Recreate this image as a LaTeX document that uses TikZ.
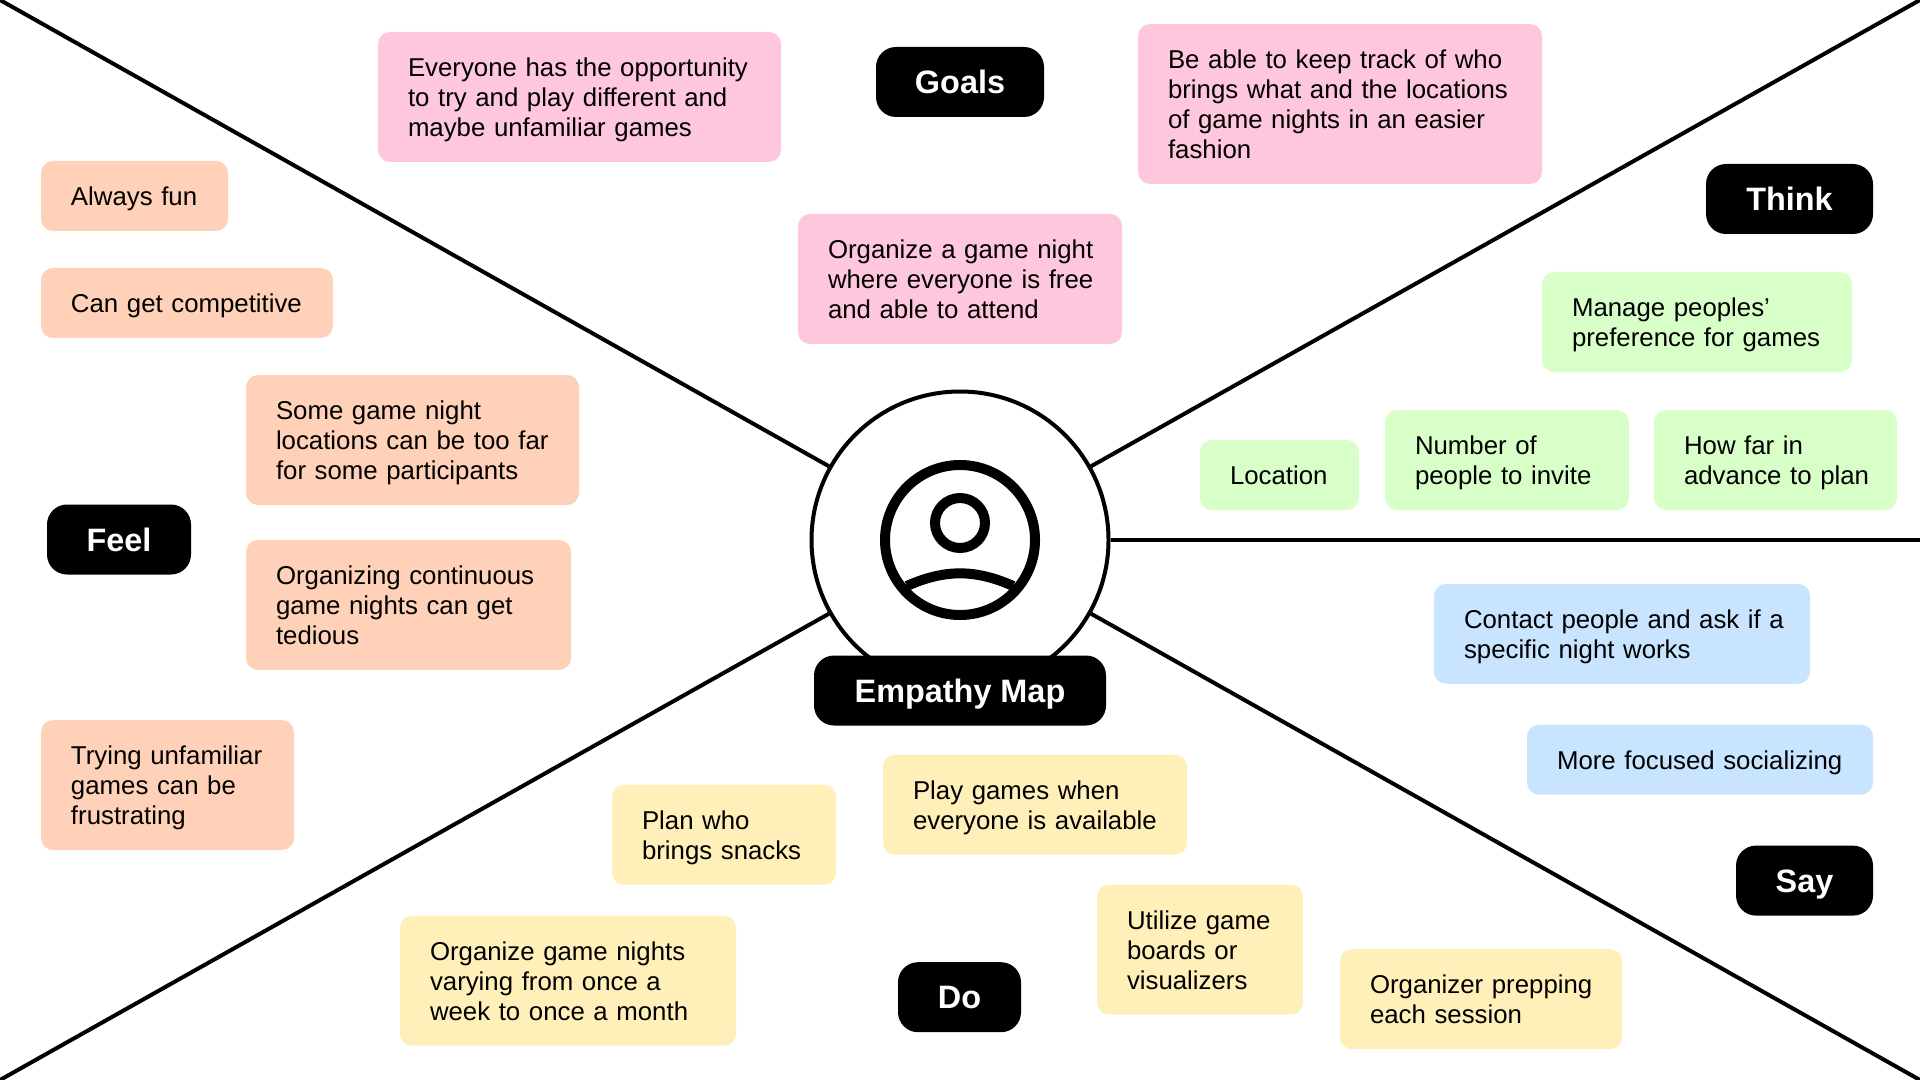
\documentclass[tikz,border=0pt]{standalone}
\usepackage{fontspec}
\setmainfont{Liberation Sans}
\usetikzlibrary{positioning}
\definecolor{pinkbox}{HTML}{FFC7DD}
\definecolor{peachbox}{HTML}{FFD1B8}
\definecolor{greenbox}{HTML}{D9FFC9}
\definecolor{bluebox}{HTML}{C9E4FF}
\definecolor{yellowbox}{HTML}{FFF0BA}
\tikzset{
note/.style={rectangle, rounded corners=6pt, outer sep=0pt, inner xsep=10pt, inner ysep=10pt, align=left, text width=#1, font=\fontsize{12.9}{15}\selectfont, execute at begin node={\leftskip=5pt\rule{0pt}{12.3pt}}, execute at end node=\rule[-2.7pt]{0pt}{2.7pt}},
goalnote/.style={note=#1, fill=pinkbox},
feelnote/.style={note=#1, fill=peachbox},
thinknote/.style={note=#1, fill=greenbox},
saynote/.style={note=#1, fill=bluebox},
donote/.style={note=#1, fill=yellowbox},
pill/.style={rectangle, rounded corners=10pt, outer sep=0pt, inner sep=0pt, fill=black, text=white, minimum height=35pt, minimum width=#1, text height=11.6pt, text depth=0pt, font=\bfseries\fontsize{16.2}{18}\selectfont},
ring/.style={circle, draw, line width=5pt, inner sep=0pt, minimum size=#1},
spoke/.style={line width=2pt}
}
\begin{document}
\begin{tikzpicture}
\useasboundingbox (0,0) rectangle (960pt,-540pt);
\coordinate (nw) at (0,0);
\coordinate (ne) at (960pt,0);
\coordinate (sw) at (0,-540pt);
\coordinate (se) at (960pt,-540pt);
\node[circle, draw, line width=2pt, fill=white, inner sep=0pt, minimum size=148.5pt] (hub) at (480pt,-270pt) {};
\coordinate (ea) at (960pt,-270pt);
\draw[spoke] (hub) -- (nw);
\draw[spoke] (hub) -- (ne);
\draw[spoke] (hub) -- (sw);
\draw[spoke] (hub) -- (se);
\draw[spoke] (hub) -- (ea);
\node[ring=75pt] (face) at (hub) {};
\node[ring=25pt, yshift=8.5pt] (head) at (hub) {};
\coordinate[xshift=-26.6pt, yshift=-23pt] (shl) at (hub);
\coordinate[xshift=26.6pt, yshift=-23pt] (shr) at (hub);
\draw[line width=5pt] (shl) to[bend left=24] (shr);
\node[pill=146pt] (map) at (hub.south) {Empathy Map};
\node[goalnote=142pt, above=22.75pt of hub] (night) {Organize a game night\\where everyone is free\\and able to attend};
\node[pill=84pt, above=48.5pt of night] (goals) {Goals};
\node[goalnote=181.5pt, left=47.5pt of goals, yshift=-7.5pt] (chance) {Everyone has the opportunity\\to try and play different and\\maybe unfamiliar games};
\node[goalnote=182pt, right=47pt of goals, yshift=-11pt] (track) {Be able to keep track of who\\brings what and the locations\\of game nights in an easier\\fashion};
\node[pill=83.5pt, right=82pt of track, yshift=-47.5pt] (think) {Think};
\node[thinknote=135pt, below=19pt of think, xshift=-46.25pt] (prefs) {Manage peoples'\\preference for games};
\node[thinknote=102pt, below=19pt of prefs, xshift=-95pt] (number) {Number of\\people to invite};
\node[thinknote=59.5pt, left=13pt of number, yshift=-7.5pt] (place) {Location};
\node[thinknote=101.5pt, right=12.5pt of number] (ahead) {How far in\\advance to plan};
\node[saynote=168pt, below=36.9pt of number, xshift=57.5pt] (ask) {Contact people and ask if a\\specific night works};
\node[saynote=153pt, below=20.4pt of ask, xshift=39pt] (social) {More focused socializing};
\node[pill=68.5pt, below=25.5pt of social, xshift=52.25pt] (say) {Say};
\node[donote=132pt, below=14.6pt of map, xshift=37.5pt] (avail) {Play games when\\everyone is available};
\node[donote=83pt, below=15pt of avail, xshift=82.5pt] (boards) {Utilize game\\boards or\\visualizers};
\node[donote=121pt, right=18.5pt of boards, yshift=-24.75pt] (prep) {Organizer prepping\\each session};
\node[donote=92pt, left=23.5pt of avail, yshift=-15pt] (snacks) {Plan who\\brings snacks};
\node[donote=148pt, below=15.5pt of snacks, xshift=-78pt] (often) {Organize game nights\\varying from once a\\week to once a month};
\node[pill=61.5pt, right=81pt of often, yshift=-8.25pt] (do) {Do};
\node[feelnote=146.5pt, left=115.25pt of hub, yshift=50pt] (far) {Some game night\\locations can be too far\\for some participants};
\node[feelnote=142.5pt, below=17.5pt of far.south west, anchor=north west] (tedious) {Organizing continuous\\game nights can get\\tedious};
\node[pill=72pt, left=27.5pt of far.south west, yshift=-17.25pt] (feel) {Feel};
\node[feelnote=126pt, above=18.5pt of far.north west, anchor=south west, xshift=-102.5pt] (rivals) {Can get competitive};
\node[feelnote=73.5pt, above=18.5pt of rivals.north west, anchor=south west] (fun) {Always fun};
\node[feelnote=106.5pt, below=25pt of tedious.south west, anchor=north west, xshift=-102.5pt] (odd) {Trying unfamiliar\\games can be\\frustrating};
\end{tikzpicture}
\end{document}
